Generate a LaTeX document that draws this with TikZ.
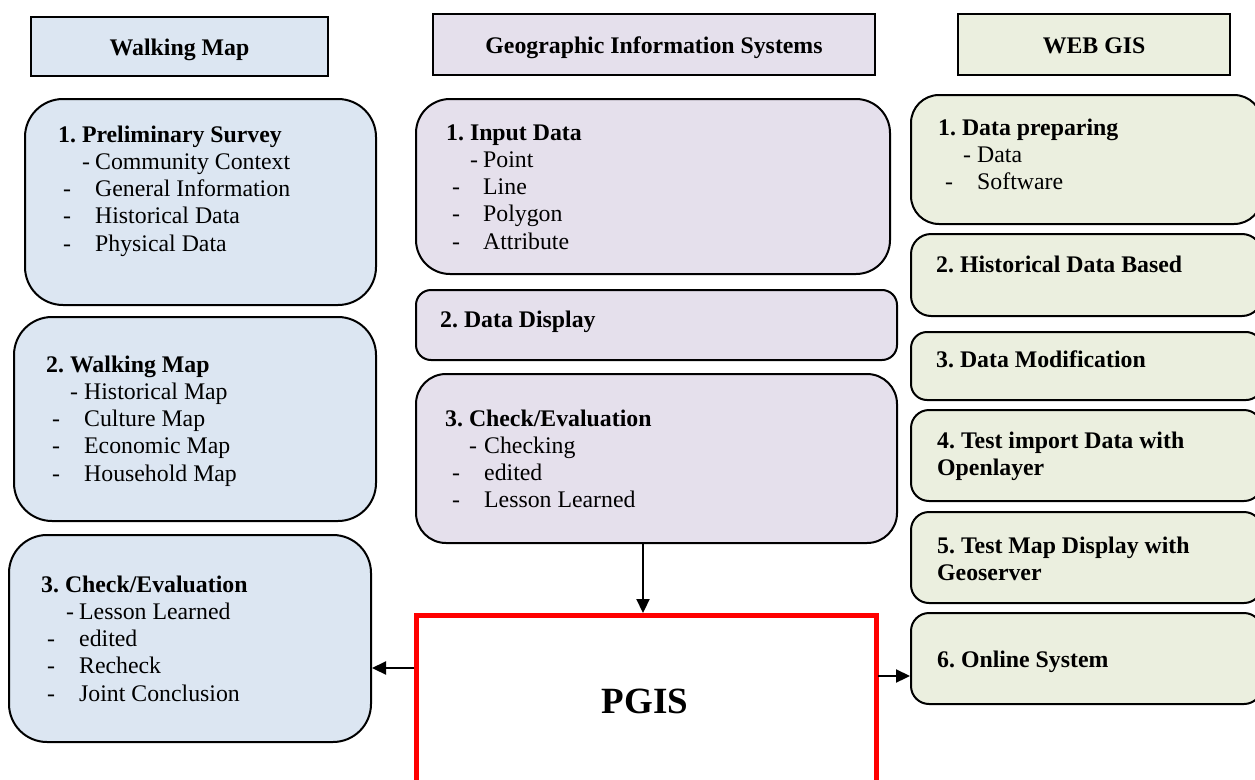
\documentclass[tikz,border=0pt]{standalone}
\usepackage{fontspec}
\setmainfont{Liberation Serif}
\usetikzlibrary{arrows.meta,fit}
\frenchspacing
\definecolor{lblue}{HTML}{DCE6F2}
\definecolor{lpurp}{HTML}{E5E0EC}
\definecolor{lgreen}{HTML}{EBEFDF}
\newcommand\fsz{\fontsize{23.8}{27.3}\selectfont}
\newcommand\dl[3]{\makebox[#2pt][l]{\hspace*{#1pt}-}#3}
\tikzset{
 box/.style={draw=black, line width=2pt, inner sep=0pt, rectangle},
 hdr/.style={draw=black, line width=2.6pt, inner sep=0pt, rectangle},
 blk/.style={anchor=base west, inner sep=0pt, align=left, font=\fsz},
 htxt/.style={anchor=base, inner sep=0pt, font=\fsz\bfseries},
 arr/.style={line width=2.2pt, -{Triangle[length=14pt,width=13pt]}},
}
\begin{document}
\begin{tikzpicture}[x=1pt,y=-1pt]
\useasboundingbox (0,0) rectangle (1255,779);
\clip (0,0) rectangle (1255,779);
\fill[white] (0,0) rectangle (1255,779);
% headers
\node[hdr, fill=lblue, fit={(31,17) (328,76)}] (h1) {};
\node[htxt] (h1t) at (179.5,55) {Walking Map};
\node[hdr, fill=lpurp, fit={(433,14) (875,75)}] (h2) {};
\node[htxt] (h2t) at (654,53) {Geographic Information Systems};
\node[hdr, fill=lgreen, fit={(958,14) (1230,75)}] (h3) {};
\node[htxt] (h3t) at (1094,53) {WEB GIS};
% left column
\node[box, fill=lblue, rounded corners=38pt, fit={(25,99) (376,305)}] (l1) {};
\node[blk] (l1t) at (58,142) {\begin{tabular}[t]{@{}l@{}}\textbf{1. Preliminary Survey}\\
\dl{24}{37}{Community Context}\\ \dl{5}{37}{General Information}\\ \dl{5}{37}{Historical Data}\\ \dl{5}{37}{Physical Data}\end{tabular}};
\node[box, fill=lblue, rounded corners=38pt, fit={(14,317) (376,521)}] (l2) {};
\node[blk] (l2t) at (46,372) {\begin{tabular}[t]{@{}l@{}}\textbf{2. Walking Map}\\
\dl{24}{38}{Historical Map}\\ \dl{6}{38}{Culture Map}\\ \dl{6}{38}{Economic Map}\\ \dl{6}{38}{Household Map}\end{tabular}};
\node[box, fill=lblue, rounded corners=38pt, fit={(9,535) (371,742)}] (l3) {};
\node[blk] (l3t) at (41,592) {\begin{tabular}[t]{@{}l@{}}\textbf{3. Check/Evaluation}\\
\dl{25}{38}{Lesson Learned}\\ \dl{6}{38}{edited}\\ \dl{6}{38}{Recheck}\\ \dl{6}{38}{Joint Conclusion}\end{tabular}};
% middle column
\node[box, fill=lpurp, rounded corners=34pt, fit={(416,99) (890,274)}] (m1) {};
\node[blk] (m1t) at (446,140) {\begin{tabular}[t]{@{}l@{}}\textbf{1. Input Data}\\
\dl{24}{37}{Point}\\ \dl{6}{37}{Line}\\ \dl{6}{37}{Polygon}\\ \dl{6}{37}{Attribute}\end{tabular}};
\node[box, fill=lpurp, rounded corners=15pt, fit={(416,290) (897,360)}] (m2) {};
\node[blk] (m2t) at (440,327) {\textbf{2. Data Display}};
\node[box, fill=lpurp, rounded corners=30pt, fit={(416,374) (897,543)}] (m3) {};
\node[blk] (m3t) at (445,426) {\begin{tabular}[t]{@{}l@{}}\textbf{3. Check/Evaluation}\\
\dl{24}{39}{Checking}\\ \dl{7}{39}{edited}\\ \dl{7}{39}{Lesson Learned}\end{tabular}};
% PGIS
\node[draw=red, line width=5pt, inner sep=0pt, fit={(416,615) (876,800)}] (pgis) {};
\node[anchor=base, inner sep=0pt, font=\fontsize{37}{40}\selectfont\bfseries] (pgist) at (645,713) {PGIS};
% right column
\node[box, fill=lgreen, rounded corners=28pt, fit={(911,95) (1262,224)}] (r1) {};
\node[blk] (r1t) at (938,135) {\begin{tabular}[t]{@{}l@{}}\textbf{1. Data preparing}\\
\dl{25}{39}{Data}\\ \dl{7}{39}{Software}\end{tabular}};
\node[box, fill=lgreen, rounded corners=20pt, fit={(911,234) (1262,316)}] (r2) {};
\node[blk] (r2t) at (936,272) {\textbf{2. Historical Data Based}};
\node[box, fill=lgreen, rounded corners=16pt, fit={(911,332) (1262,400)}] (r3) {};
\node[blk] (r3t) at (936,367) {\textbf{3. Data Modification}};
\node[box, fill=lgreen, rounded corners=18pt, fit={(911,410) (1262,501)}] (r4) {};
\node[blk] (r4t) at (937,448) {\begin{tabular}[t]{@{}l@{}}\textbf{4. Test import Data with}\\ \textbf{Openlayer}\end{tabular}};
\node[box, fill=lgreen, rounded corners=18pt, fit={(911,512) (1262,603)}] (r5) {};
\node[blk] (r5t) at (937,553) {\begin{tabular}[t]{@{}l@{}}\textbf{5. Test Map Display with}\\ \textbf{Geoserver}\end{tabular}};
\node[box, fill=lgreen, rounded corners=18pt, fit={(911,613) (1262,704)}] (r6) {};
\node[blk] (r6t) at (937,667) {\textbf{6. Online System}};
% connectors
\coordinate (dn) at (643,543);
\coordinate (dt) at (643,613);
\draw[arr] (dn) -- (dt);
\coordinate (pl) at (414,668);
\draw[arr] (pl) -- (l3.east |- pl);
\coordinate (pr) at (878,676);
\draw[arr] (pr) -- (r6.west |- pr);
\end{tikzpicture}
\end{document}
